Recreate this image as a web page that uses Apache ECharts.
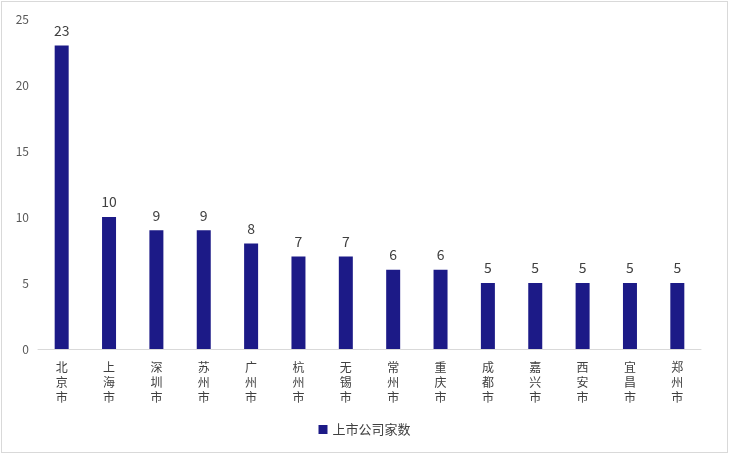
<!DOCTYPE html>
<html>
<head>
<meta charset="utf-8">
<script src="https://cdn.jsdelivr.net/npm/echarts@6/dist/echarts.min.js"></script>
<style>
  html, body { margin: 0; padding: 0; background: #fff; }
  #main { position: absolute; left: 1px; top: 1px; width: 727px; height: 452px;
          border: 1px solid #d9d9d9; box-sizing: border-box; }
</style>
</head>
<body>
<div id="main"></div>
<script>
// 城市
const cities = ['北京市', '上海市', '深圳市', '苏州市', '广州市', '杭州市', '无锡市',
                '常州市', '重庆市', '成都市', '嘉兴市', '西安市', '宜昌市', '郑州市'];
// 上市公司家数
const counts = [23, 10, 9, 9, 8, 7, 7, 6, 6, 5, 5, 5, 5, 5];
const seriesName = '上市公司家数';

const myChart = echarts.init(document.getElementById('main'));
const font = '"Noto Sans CJK SC", "DejaVu Sans", sans-serif';

myChart.setOption({
  animation: false,
  textStyle: { fontFamily: font },
  grid: { left: 36, right: 26, top: 17, bottom: 103, outerBoundsMode: 'none' },
  legend: {
    bottom: 11,
    left: 'center',
    itemWidth: 9,
    itemHeight: 9,
    itemGap: 8,
    icon: 'rect',
    textStyle: { fontSize: 13, color: '#404040', fontFamily: font },
    data: [seriesName]
  },
  xAxis: {
    type: 'category',
    data: cities,
    axisLine: { lineStyle: { color: '#d9d9d9' } },
    axisTick: { show: false },
    axisLabel: {
      interval: 0,
      margin: 11,
      color: '#404040',
      fontSize: 12,
      lineHeight: 15,
      formatter: v => v.split('').join('\n')
    }
  },
  yAxis: {
    type: 'value',
    min: 0,
    max: 25,
    interval: 5,
    splitLine: { show: false },
    axisLine: { show: false },
    axisTick: { show: false },
    axisLabel: { color: '#595959', fontSize: 12, margin: 9 }
  },
  series: [{
    name: seriesName,
    type: 'bar',
    data: counts,
    barWidth: 14,
    itemStyle: { color: '#1c1a87' },
    label: {
      show: true,
      position: 'top',
      distance: 8,
      color: '#404040',
      fontSize: 14
    }
  }]
});
</script>
</body>
</html>
